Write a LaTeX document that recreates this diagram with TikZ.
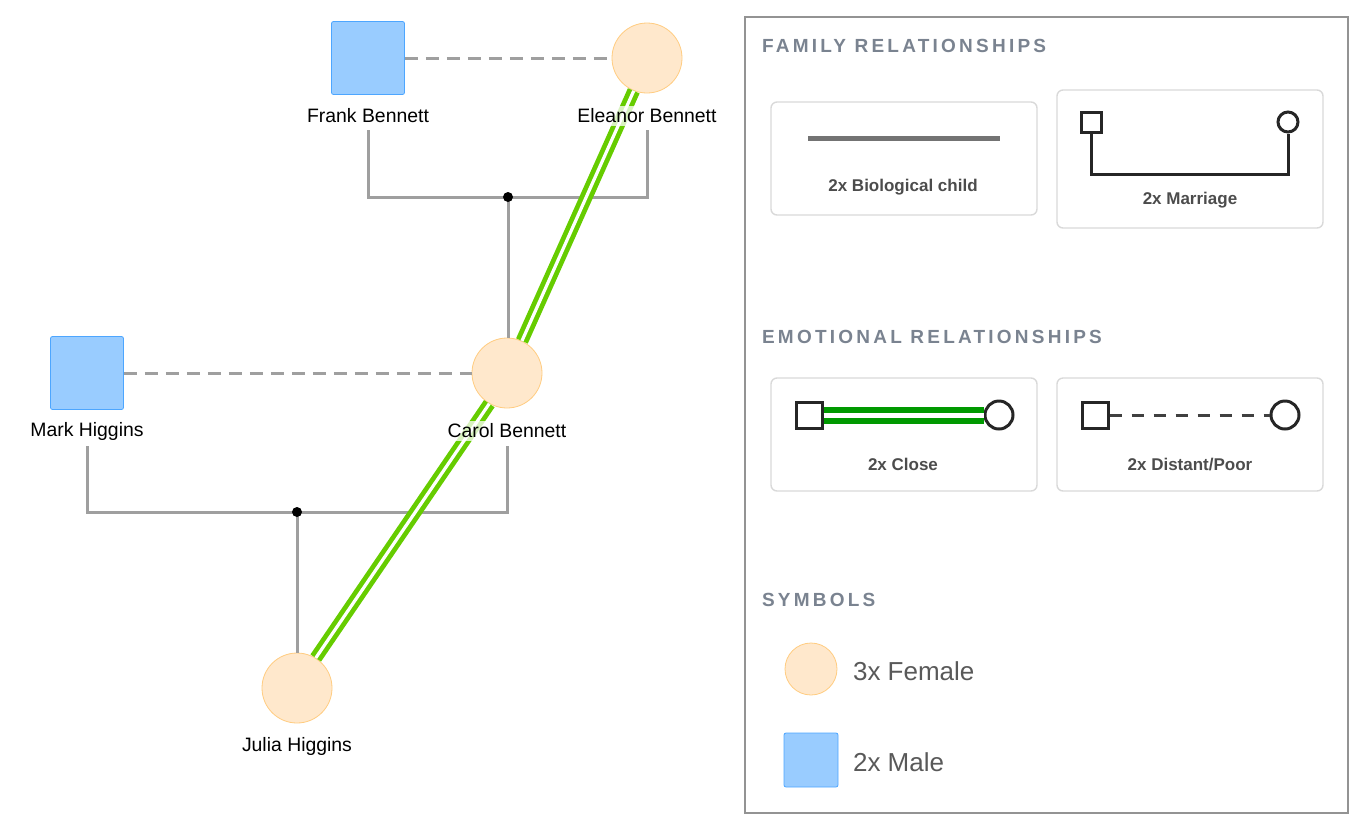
\documentclass[tikz,border=0pt]{standalone}
\usepackage{fontspec}
\setmainfont{Liberation Sans}
\newfontfamily\headfont[LetterSpace=17]{Liberation Sans}
\usetikzlibrary{positioning}
\definecolor{malefill}{HTML}{99CCFF}
\definecolor{maleline}{HTML}{4DA6FF}
\definecolor{femfill}{HTML}{FFE8CC}
\definecolor{femline}{HTML}{FFCC80}
\definecolor{headgray}{HTML}{7A8390}
\definecolor{closegreen}{HTML}{66CC00}
\tikzset{
  male/.style={draw=maleline, fill=malefill, minimum size=36.5pt, rounded corners=1pt, inner sep=0pt},
  female/.style={circle, draw=femline, fill=femfill, minimum size=35pt, inner sep=0pt},
  personlabel/.style={font=\fontsize{9.7}{11}\selectfont, fill=white, fill opacity=0.75, text opacity=1, inner sep=1.5pt},
  child/.style={gray!75, line width=1.5pt},
  marriage/.style={gray!75, line width=1.5pt, dash pattern=on 6.5pt off 4pt},
  close/.style={closegreen, line width=2.4pt, double=white, double distance=1.6pt},
  card/.style={draw=gray!30, rounded corners=3pt, line width=0.7pt},
  cardtext/.style={font=\bfseries\fontsize{8.5}{10}\selectfont, text=black!70},
  head/.style={font=\headfont\bfseries\fontsize{9.5}{11}\selectfont, text=headgray, anchor=west},
  icon/.style={draw=black!85, line width=1.5pt},
}
\begin{document}
\begin{tikzpicture}[x=0.5pt, y=-0.5pt]
    \useasboundingbox (0,0) rectangle (1367,832);
    % People
    \node[male] (frank) at (368,58) {};
    \node[female] (eleanor) at (647,58) {};
    \node[male] (mark) at (87,373) {};
    \node[female] (carol) at (507,373) {};
    \node[female] (julia) at (297,688) {};

    % Label anchors
    \coordinate (frankB) at (368,130);
    \coordinate (eleanorB) at (647,130);
    \coordinate (markB) at (87,446);
    \coordinate (carolB) at (507,446);

    % Marriages
    \draw[marriage] (frank) -- (eleanor);
    \draw[marriage] (mark) -- (carol);

    % Children
    \coordinate (u1) at (508,197);
    \coordinate (u2) at (297,512);
    \draw[child] (frankB) -- (frankB |- u1) -- (eleanorB |- u1) -- (eleanorB);
    \draw[child] (u1) -- (carol.north -| u1);
    \draw[child] (markB) -- (markB |- u2) -- (carolB |- u2) -- (carolB);
    \draw[child] (u2) -- (julia.north);
    \fill (u1) circle (2.5pt);
    \fill (u2) circle (2.5pt);

    % Emotional
    \draw[close] (eleanor.-112) -- (carol.65);
    \draw[close] (carol.-120) -- (julia.58);

    % Names on top
    \node[personlabel] (frankL) at (368,116) {Frank Bennett};
    \node[personlabel] (eleanorL) at (647,116) {Eleanor Bennett};
    \node[personlabel] (markL) at (87,431) {Mark Higgins};
    \node[personlabel] (carolL) at (507,431) {Carol Bennett};
    \node[personlabel] (juliaL) at (297,746) {Julia Higgins};

    % Legend
    \draw[gray!85, line width=1.2pt] (745,17) rectangle (1348,813);
    \node[head] (h1) at (755,46) {FAMILY RELATIONSHIPS};
    \node[head] (h2) at (755,337) {EMOTIONAL RELATIONSHIPS};
    \node[head] (h3) at (755,600) {SYMBOLS};

    \draw[card] (771,102) rectangle (1037,215);
    \draw[gray!90!black, line width=2.5pt] (808,138) -- (1000,138);
    \node[cardtext] (c1) at (903,187) {2x Biological child};

    \draw[card] (1057,90) rectangle (1323,228);
    \node[icon, minimum size=10pt, inner sep=0pt] (ms) at (1091,122) {};
    \node[icon, circle, minimum size=10pt, inner sep=0pt] (mc) at (1288,122) {};
    \draw[icon] (ms.south) -- ++(0,41) -| (mc.south);
    \node[cardtext] (c2) at (1190,200) {2x Marriage};

    \draw[card] (771,378) rectangle (1037,491);
    \node[icon, minimum size=13pt, inner sep=0pt] (cs) at (809,415) {};
    \node[icon, circle, minimum size=14pt, inner sep=0pt] (cc) at (999,415) {};
    \draw[green!60!black, line width=3pt, double=white, double distance=2.5pt] (cs) -- (cc);
    \node[cardtext] (c3) at (903,464) {2x Close};

    \draw[card] (1057,378) rectangle (1323,491);
    \node[icon, minimum size=13pt, inner sep=0pt] (ds) at (1095,415) {};
    \node[icon, circle, minimum size=14pt, inner sep=0pt] (dc) at (1285,415) {};
    \draw[black!75, line width=1.5pt, dash pattern=on 6pt off 5pt] (ds) -- (dc);
    \node[cardtext] (c4) at (1190,464) {2x Distant/Poor};

    \node[female, minimum size=26pt] (fs) at (811,669) {};
    \node[anchor=west, text=black!65, font=\fontsize{13}{15}\selectfont] (fl) at (846,671) {3x Female};
    \node[male, minimum size=27pt] (msym) at (811,760) {};
    \node[anchor=west, text=black!65, font=\fontsize{13}{15}\selectfont] (ml) at (846,762) {2x Male};
\end{tikzpicture}
\end{document}
